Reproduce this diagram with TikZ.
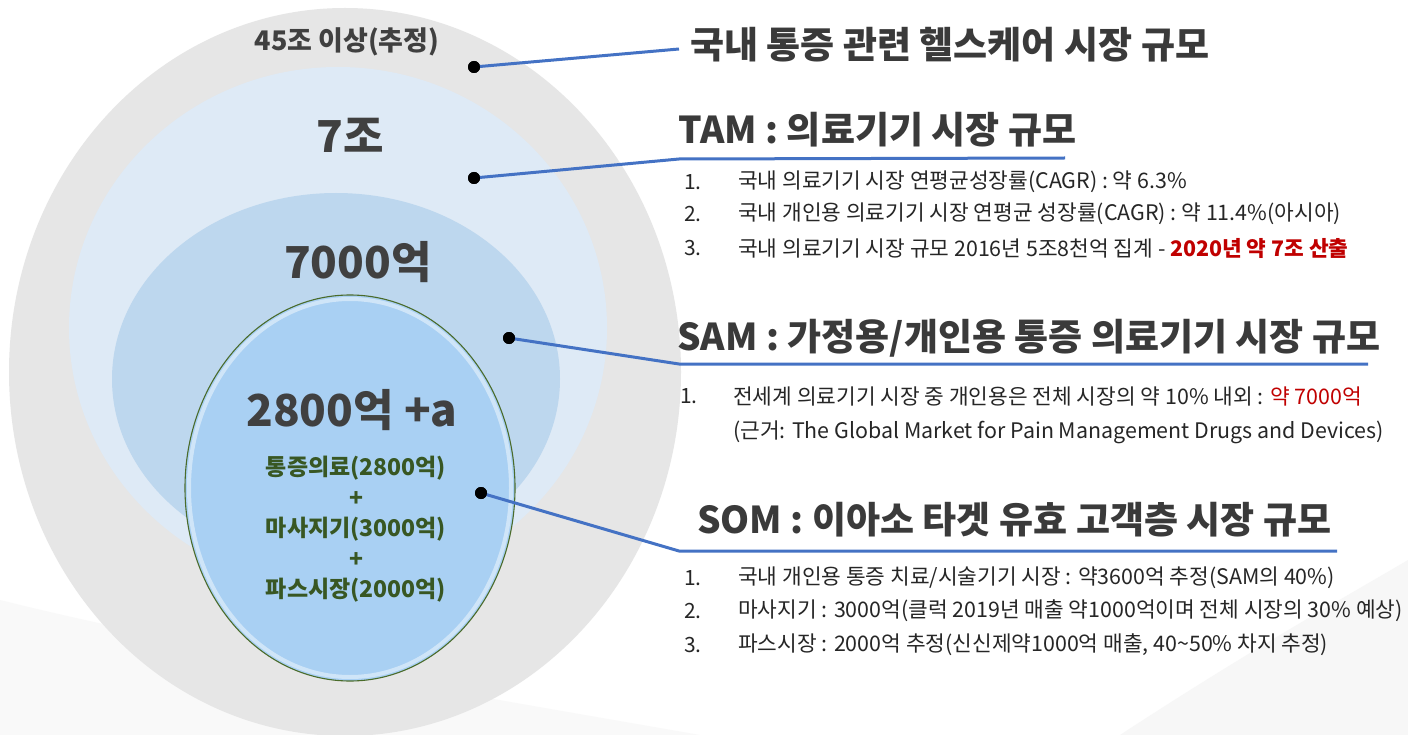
\documentclass[tikz,border=0pt]{standalone}
\usepackage{fontspec}
\setmainfont{Noto Sans CJK KR}
\definecolor{gOuter}{HTML}{E6E6E6}
\definecolor{bOne}{HTML}{DEEAF6}
\definecolor{bTwo}{HTML}{BDD7EE}
\definecolor{bThree}{HTML}{A9D0F3}
\definecolor{connC}{HTML}{4472C4}
\definecolor{numC}{HTML}{404040}
\definecolor{headC}{HTML}{3A3A3A}
\definecolor{listC}{HTML}{262626}
\definecolor{greenC}{HTML}{385723}
\definecolor{redC}{HTML}{C00000}
\definecolor{rimC}{HTML}{4A6B2A}
\begin{document}
\begin{tikzpicture}[x=1pt,y=-1pt,
  conn/.style={draw=connC, line width=3pt},
  dotnode/.style={circle, fill=black, inner sep=0pt, minimum size=12pt},
  bignum/.style={font=\fontsize{44}{48}\selectfont\bfseries, text=numC},
  heading/.style={anchor=west, font=\fontsize{37}{40}\selectfont\bfseries, text=headC, inner sep=0pt},
  listnum/.style={anchor=west, font=\fontsize{21}{24}\selectfont, text=listC, inner sep=0pt},
  listtxt/.style={anchor=west, font=\fontsize{21.4}{24}\selectfont, text=listC, inner sep=0pt},
  greentxt/.style={font=\fontsize{23}{26}\selectfont\bfseries, text=greenC, inner sep=0pt}]
\useasboundingbox (0,0) rectangle (1408,735);
\clip (0,0) rectangle (1408,735);
\fill[white] (0,0) rectangle (1408,735);
% faint background swooshes
\fill[gray!6] (1120,735) .. controls (1250,650) and (1340,600) .. (1408,560) -- (1408,735) -- cycle;
\fill[gray!5] (0,600) .. controls (200,650) and (500,700) .. (700,735) -- (0,735) -- cycle;
% nested ellipses
\fill[gOuter] (345,372) ellipse [x radius=336, y radius=364];
\fill[bOne] (338,328) ellipse [x radius=269, y radius=261];
\fill[bTwo] (336,379) ellipse [x radius=224, y radius=186];
\fill[bThree] (350,488) ellipse [x radius=165, y radius=193];
\draw[white, opacity=0.45, line width=4pt] (350,488) ellipse [x radius=161, y radius=189];
\draw[rimC, line width=1.1pt] (350,488) ellipse [x radius=165, y radius=193];
% labels in ellipses
\node[font=\fontsize{27}{30}\selectfont\bfseries, text=numC] (lbl45) at (347,42) {45조 이상(추정)};
\node[bignum] (lbl7) at (350,135) {7조};
\node[bignum] (lbl7000) at (358,262) {7000억};
\node[bignum] (lbl2800) at (352,410) {2800억 +a};
\node[greentxt] (g1) at (356,468) {통증의료(2800억)};
\node[greentxt] (p1) at (356,499) {+};
\node[greentxt] (g2) at (356,529) {마사지기(3000억)};
\node[greentxt] (p2) at (356,560) {+};
\node[greentxt] (g3) at (356,590) {파스시장(2000억)};
% dots
\node[dotnode] (d1) at (474,67) {};
\node[dotnode] (d2) at (474,178) {};
\node[dotnode] (d3) at (509,338) {};
\node[dotnode] (d4) at (481,493) {};
% connector ends
\coordinate (e1) at (679,49);
\coordinate (t1) at (679,159);
\coordinate (t2) at (1065,158);
\coordinate (s1) at (679,364);
\coordinate (s2) at (1368,364);
\coordinate (o1) at (679,551);
\coordinate (o2) at (1337,551);
\draw[conn] (d1.center) -- (e1);
\draw[conn] (d2.center) -- (t1) -- (t2);
\draw[conn] (d3.center) -- (s1) -- (s2);
\draw[conn] (d4.center) -- (o1) -- (o2);
\node[dotnode] at (d1) {};
\node[dotnode] at (d2) {};
\node[dotnode] at (d3) {};
\node[dotnode] at (d4) {};
% headings
\node[heading] (h0) at (690,45) {국내 통증 관련 헬스케어 시장 규모};
\node[heading] (hT) at (678,130) {TAM : 의료기기 시장 규모};
\node[heading] (hS) at (677,338) {SAM : 가정용/개인용 통증 의료기기 시장 규모};
\node[heading] (hO) at (697,520) {SOM : 이아소 타겟 유효 고객층 시장 규모};
% TAM list
\node[listnum] (tn1) at (684,182) {1.};
\node[listtxt] (tl1) at (738,182) {국내 의료기기 시장 연평균성장률(CAGR) : 약 6.3\%};
\node[listnum] (tn2) at (684,214) {2.};
\node[listtxt] (tl2) at (738,214) {국내 개인용 의료기기 시장 연평균 성장률(CAGR) : 약 11.4\%(아시아)};
\node[listnum] (tn3) at (684,248) {3.};
\node[listtxt] (tl3) at (738,248) {국내 의료기기 시장 규모 2016년 5조8천억 집계 - \textcolor{redC}{\bfseries 2020년 약 7조 산출}};
% SAM list
\node[listnum] (sn1) at (680,396) {1.};
\node[listtxt] (sl1) at (733,396) {전세계 의료기기 시장 중 개인용은 전체 시장의 약 10\% 내외 : \textcolor{redC}{약 7000억}};
\node[listtxt] (sl2) at (733,432) {(근거: The Global Market for Pain Management Drugs and Devices)};
% SOM list
\node[listnum] (on1) at (684,578) {1.};
\node[listtxt] (ol1) at (738,578) {국내 개인용 통증 치료/시술기기 시장 : 약3600억 추정(SAM의 40\%)};
\node[listnum] (on2) at (684,611) {2.};
\node[listtxt] (ol2) at (738,611) {마사지기 : 3000억(클럭 2019년 매출 약1000억이며 전체 시장의 30\% 예상)};
\node[listnum] (on3) at (684,645) {3.};
\node[listtxt] (ol3) at (738,645) {파스시장 : 2000억 추정(신신제약1000억 매출, 40\textasciitilde50\% 차지 추정)};
\end{tikzpicture}
\end{document}
